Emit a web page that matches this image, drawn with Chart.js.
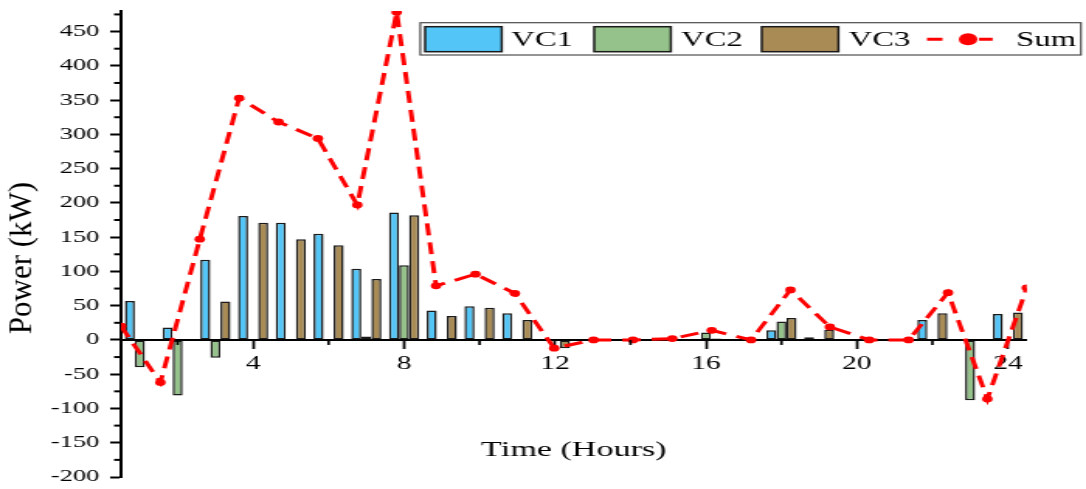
<!DOCTYPE html>
<html>
<head>
<meta charset="utf-8">
<script src="https://cdn.jsdelivr.net/npm/chart.js@4.4.1/dist/chart.umd.min.js"></script>
<style>
  html, body { margin: 0; padding: 0; background: #fff; overflow: hidden; }
  #powerChart { display: block; transform-origin: 0 0; }
</style>
</head>
<body>
<canvas id="powerChart" width="700" height="489"></canvas>
<script>
// hourly power per voltage controller (kW)
const hours = [1, 2, 3, 4, 5, 6, 7, 8, 9, 10, 11, 12, 13, 14, 15, 16, 17, 18, 19, 20, 21, 22, 23, 24];
const vc1 = [57, 18, 117, 181, 171, 155, 104, 186, 43, 49, 39, 0, 0, 0, 0, 0, 0, 14, 4, 0, 0, 29, 0, 38];
const vc2 = [-40, -81, -26, 0, 0, 0, 5, 109, 0, 0, 0, 0, 0, 0, 2, 11, 0, 27, 0, 0, 0, 0, -88, 0];
const vc3 = [0, 0, 56, 171, 147, 138, 89, 182, 35, 47, 29, -12, 0, 0, 0, 2, 0, 32, 15, 0, 0, 39, 0, 40];
const sum = [20, -62, 147, 353, 318, 294, 197, 478, 79, 96, 68, -12, 0, 0, 2, 14, 0, 73, 19, 0, 0, 69, -86, 76];

const xTicks = [4, 8, 12, 16, 20, 24];
const yTicks = [-200, -150, -100, -50, 0, 50, 100, 150, 200, 250, 300, 350, 400, 450];

// the plot is drawn narrow and widened with CSS
const STRETCH = 1086 / 700;
const canvas = document.getElementById('powerChart');
canvas.style.transform = `scaleX(${STRETCH})`;

const serif = '"Liberation Serif", "Times New Roman", serif';
Chart.defaults.font.family = serif;
Chart.defaults.color = '#000';

const colors = { vc1: '#53C5F6', vc2: '#95C18B', vc3: '#A98B55', sum: '#FF0000' };

const extras = {
  id: 'extras',
  afterDraw(chart) {
    const { ctx, scales: { x, y } } = chart;
    const y0 = y.getPixelForValue(0);
    ctx.save();
    ctx.strokeStyle = '#000';

    // minor ticks
    ctx.lineWidth = 2;
    yTicks.forEach(v => {
      const py = y.getPixelForValue(v + 25);
      ctx.beginPath();
      ctx.moveTo(y.right - 4.5, py);
      ctx.lineTo(y.right, py);
      ctx.stroke();
    });
    ctx.lineWidth = 1.7;
    xTicks.forEach(v => {
      const px = x.getPixelForValue(v - 2);
      ctx.beginPath();
      ctx.moveTo(px, y0);
      ctx.lineTo(px, y0 + 5);
      ctx.stroke();
    });

    // y title, kept unstretched
    ctx.save();
    ctx.scale(1 / STRETCH, 1);
    ctx.translate(23, 258);
    ctx.rotate(-Math.PI / 2);
    ctx.font = '31px ' + serif;
    ctx.fillStyle = '#000';
    ctx.textAlign = 'center';
    ctx.textBaseline = 'middle';
    ctx.fillText('Power (kW)', 0, 0);
    ctx.restore();

    // legend
    ctx.strokeStyle = '#4d4d4d';
    ctx.lineWidth = 1.2;
    ctx.strokeRect(270.9, 22.7, 425.8, 32.3);
    const slots = [274, 383, 491, 597.5];
    const textX = [329.5, 439, 547, 655];
    ctx.font = '21px ' + serif;
    ctx.textAlign = 'left';
    ctx.textBaseline = 'alphabetic';
    chart.data.datasets.forEach((ds, i) => {
      const sx = slots[i];
      if (ds.type === 'line') {
        ctx.strokeStyle = ds.borderColor;
        ctx.lineWidth = 3;
        ctx.beginPath();
        ctx.moveTo(sx, 39.2); ctx.lineTo(sx + 10, 39.2);
        ctx.moveTo(sx + 33.5, 39.2); ctx.lineTo(sx + 42.3, 39.2);
        ctx.stroke();
        ctx.fillStyle = ds.borderColor;
        ctx.beginPath();
        ctx.arc(sx + 26.5, 39.2, 6, 0, Math.PI * 2);
        ctx.fill();
      } else {
        ctx.fillStyle = ds.backgroundColor;
        ctx.fillRect(sx, 26.7, 49.4, 25);
        ctx.strokeStyle = '#1a1a1a';
        ctx.lineWidth = 1.5;
        ctx.strokeRect(sx, 26.7, 49.4, 25);
      }
      ctx.fillStyle = '#000';
      ctx.fillText(ds.label, textX[i], 46);
    });
    ctx.restore();
  }
};

const barStyle = {
  indexAxis: 'x', borderColor: '#1a1a1a', borderWidth: 1.5, borderSkipped: false,
  categoryPercentage: 0.8, barPercentage: 1.0
};

new Chart(canvas.getContext('2d'), {
  type: 'bar',
  data: {
    labels: hours,
    datasets: [
      { label: 'VC1', data: vc1, backgroundColor: colors.vc1, ...barStyle },
      { label: 'VC2', data: vc2, backgroundColor: colors.vc2, ...barStyle },
      { label: 'VC3', data: vc3, backgroundColor: colors.vc3, ...barStyle },
      {
        type: 'line', label: 'Sum', data: sum, indexAxis: 'x', xAxisID: 'x2', order: -1,
        borderColor: colors.sum, borderWidth: 3, borderDash: [12, 7],
        pointRadius: 3.4, pointBorderWidth: 0, pointBackgroundColor: colors.sum,
        tension: 0, fill: false
      }
    ]
  },
  options: {
    // sum line sits on its own x scale; keep bar grouping counted on y
    indexAxis: 'y',
    responsive: false,
    animation: false,
    layout: { padding: { left: 0, right: 38.2, top: 11, bottom: 12 } },
    plugins: { legend: { display: false }, tooltip: { enabled: false } },
    scales: {
      x: {
        type: 'linear', min: 0.5, max: 24.5, offset: false,
        position: { y: 0 },
        afterBuildTicks: s => { s.ticks = xTicks.map(v => ({ value: v })); },
        afterFit: s => { s.paddingLeft = 0; s.paddingRight = 0; },
        grid: { drawOnChartArea: false, drawTicks: true, offset: false, tickLength: 8, tickWidth: 1.7, tickColor: '#000' },
        border: { display: true, color: '#000', width: 2 },
        ticks: { font: { size: 19 }, color: '#000', padding: 5, maxRotation: 0, autoSkip: false },
        title: { display: true, text: 'Time (Hours)', font: { size: 22 }, color: '#000', padding: { top: 56, bottom: 0 } }
      },
      x2: { type: 'linear', min: 1, max: 24, display: false, offset: false },
      y: {
        type: 'linear', position: 'left', min: -200, max: 480, offset: false,
        afterBuildTicks: s => { s.ticks = yTicks.map(v => ({ value: v })); },
        afterFit: s => { s.width = 78; s.paddingTop = 0; s.paddingBottom = 0; },
        grid: { drawOnChartArea: false, drawTicks: true, offset: false, tickLength: 7, tickWidth: 2, tickColor: '#000' },
        border: { display: true, color: '#000', width: 2 },
        ticks: { font: { size: 17 }, color: '#000', padding: 7 }
      }
    }
  },
  plugins: [extras]
});
</script>
</body>
</html>
